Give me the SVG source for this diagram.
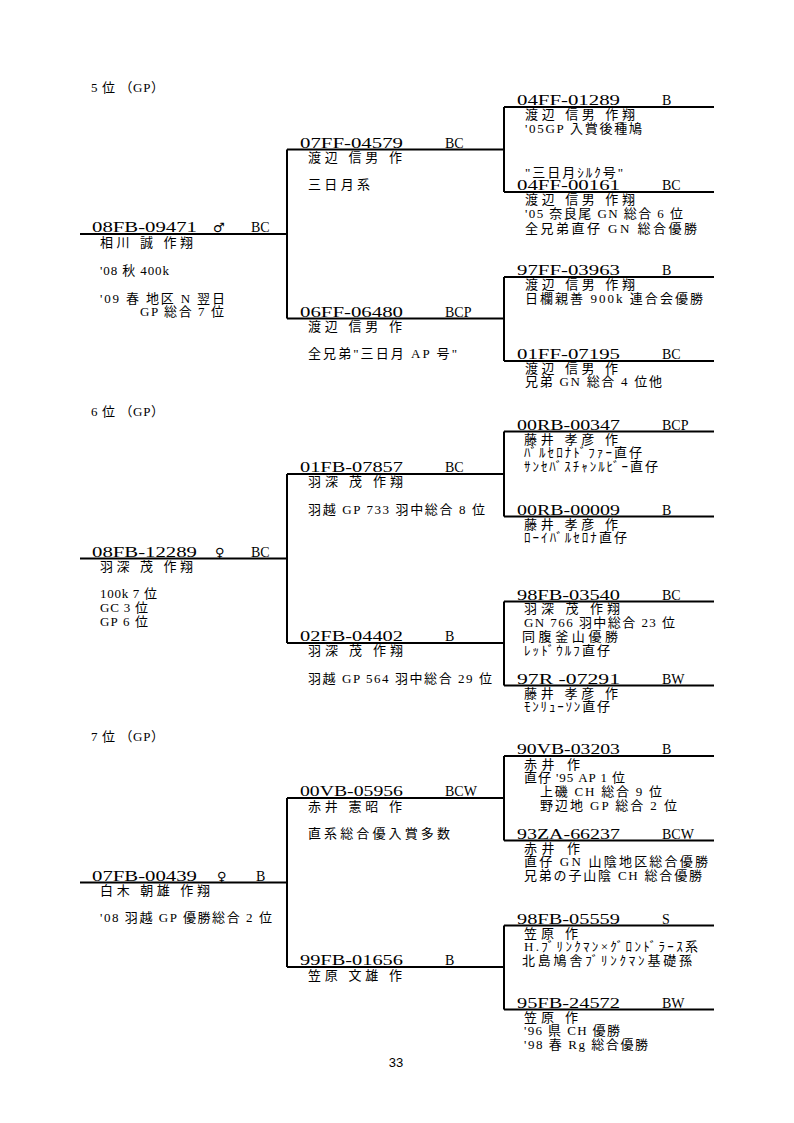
<svg xmlns="http://www.w3.org/2000/svg" width="794" height="1123" viewBox="0 0 794 1123">
<style>
.bg{fill:#ffffff}
.ln{stroke:#000;stroke-width:2;fill:none}
.id{font-family:"Liberation Serif",serif;font-size:14px;fill:#000}
.gr{font-family:"Liberation Serif",serif;font-size:14px;fill:#000}
.sx{font-family:"DejaVu Sans",sans-serif;font-size:13px;font-weight:bold;fill:#000}
.t{font-family:"Liberation Serif","Noto Sans CJK JP",serif;font-size:13px;fill:#000}
.pg{font-family:"Liberation Sans",sans-serif;font-size:13px;fill:#000}
</style>
<rect class="bg" x="0" y="0" width="794" height="1123"/>

<g id="connectors">
<path class="ln" d="M80,234H287M287,149.5V318.5M287,149.5H504M287,318.5H504M504,107V192M504,107H714M504,192H714M504,277V361M504,277H714M504,361H714"/>
<path class="ln" d="M80,558.5H287M287,474V643M287,474H504M287,643H504M504,431.5V516.5M504,431.5H714M504,516.5H714M504,601.5V685.5M504,601.5H714M504,685.5H714"/>
<path class="ln" d="M80,882.5H287M287,798V967M287,798H504M287,967H504M504,756V840.5M504,756H714M504,840.5H714M504,925.5V1009.5M504,925.5H714M504,1009.5H714"/>
</g>

<!-- Section 5 -->
<g id="title5"><text class="t" x="91" y="92" textLength="73">5 位 （GP）</text></g>
<g id="n-08FB-09471">
<text class="id" x="92" y="232" textLength="105" lengthAdjust="spacingAndGlyphs">08FB-09471</text>
<text class="sx" x="213" y="232">♂</text>
<text class="gr" x="251" y="232">BC</text>
<text class="t" x="100" y="246.5" textLength="93">相川 誠 作翔</text>
<text class="t" x="100" y="275" textLength="69">'08 秋 400k</text>
<text class="t" x="100" y="303" textLength="125">'09 春 地区 N 翌日</text>
<text class="t" x="140" y="316" textLength="84">GP 総合 7 位</text>
</g>
<g id="n-07FF-04579">
<text class="id" x="300" y="147.5" textLength="103" lengthAdjust="spacingAndGlyphs">07FF-04579</text>
<text class="gr" x="445" y="147.5">BC</text>
<text class="t" x="308" y="161.5" textLength="94">渡辺 信男 作</text>
<text class="t" x="308" y="189" textLength="62">三日月系</text>
</g>
<g id="n-06FF-06480">
<text class="id" x="300" y="316.5" textLength="103" lengthAdjust="spacingAndGlyphs">06FF-06480</text>
<text class="gr" x="445" y="316.5">BCP</text>
<text class="t" x="308" y="330.5" textLength="94">渡辺 信男 作</text>
<text class="t" x="308" y="358" textLength="149">全兄弟"三日月 AP 号"</text>
</g>
<g id="n-04FF-01289">
<text class="id" x="517" y="105" textLength="103" lengthAdjust="spacingAndGlyphs">04FF-01289</text>
<text class="gr" x="662" y="105">B</text>
<text class="t" x="525" y="118.5" textLength="110">渡辺 信男 作翔</text>
<text class="t" x="525" y="133" textLength="117">'05GP 入賞後種鳩</text>
</g>
<g id="n-04FF-00161">
<text class="t" x="525" y="177" textLength="98">"三日月ｼﾙｸ号"</text>
<text class="id" x="517" y="190" textLength="103" lengthAdjust="spacingAndGlyphs">04FF-00161</text>
<text class="gr" x="662" y="190">BC</text>
<text class="t" x="525" y="203.5" textLength="110">渡辺 信男 作翔</text>
<text class="t" x="525" y="218" textLength="158">'05 奈良尾 GN 総合 6 位</text>
<text class="t" x="525" y="233" textLength="172">全兄弟直仔 GN 総合優勝</text>
</g>
<g id="n-97FF-03963">
<text class="id" x="517" y="275" textLength="103" lengthAdjust="spacingAndGlyphs">97FF-03963</text>
<text class="gr" x="662" y="275">B</text>
<text class="t" x="525" y="289" textLength="110">渡辺 信男 作翔</text>
<text class="t" x="525" y="303" textLength="178">日欄親善 900k 連合会優勝</text>
</g>
<g id="n-01FF-07195">
<text class="id" x="517" y="359" textLength="103" lengthAdjust="spacingAndGlyphs">01FF-07195</text>
<text class="gr" x="662" y="359">BC</text>
<text class="t" x="525" y="372.5" textLength="93">渡辺 信男 作</text>
<text class="t" x="525" y="386" textLength="137">兄弟 GN 総合 4 位他</text>
</g>

<!-- Section 6 -->
<g id="title6"><text class="t" x="91" y="416" textLength="73">6 位 （GP）</text></g>
<g id="n-08FB-12289">
<text class="id" x="92" y="556.5" textLength="105" lengthAdjust="spacingAndGlyphs">08FB-12289</text>
<text class="sx" x="215" y="556.5">♀</text>
<text class="gr" x="251" y="556.5">BC</text>
<text class="t" x="100" y="570.5" textLength="93">羽深 茂 作翔</text>
<text class="t" x="100" y="598" textLength="57">100k 7 位</text>
<text class="t" x="100" y="612" textLength="48">GC 3 位</text>
<text class="t" x="100" y="626" textLength="48">GP 6 位</text>
</g>
<g id="n-01FB-07857">
<text class="id" x="300" y="472" textLength="103" lengthAdjust="spacingAndGlyphs">01FB-07857</text>
<text class="gr" x="445" y="472">BC</text>
<text class="t" x="308" y="486" textLength="95">羽深 茂 作翔</text>
<text class="t" x="308" y="514" textLength="177">羽越 GP 733 羽中総合 8 位</text>
</g>
<g id="n-02FB-04402">
<text class="id" x="300" y="641" textLength="103" lengthAdjust="spacingAndGlyphs">02FB-04402</text>
<text class="gr" x="445" y="641">B</text>
<text class="t" x="308" y="655" textLength="95">羽深 茂 作翔</text>
<text class="t" x="308" y="683" textLength="184">羽越 GP 564 羽中総合 29 位</text>
</g>
<g id="n-00RB-00347">
<text class="id" x="517" y="429.5" textLength="103" lengthAdjust="spacingAndGlyphs">00RB-00347</text>
<text class="gr" x="662" y="429.5">BCP</text>
<text class="t" x="524" y="443.5" textLength="94">藤井 孝彦 作</text>
<text class="t" x="524" y="457" textLength="118">ﾊﾞﾙｾﾛﾅﾄﾞﾌｧｰ直仔</text>
<text class="t" x="524" y="471" textLength="134">ｻﾝｾﾊﾞｽﾁｬﾝﾙﾋﾞｰ直仔</text>
</g>
<g id="n-00RB-00009">
<text class="id" x="517" y="514.5" textLength="103" lengthAdjust="spacingAndGlyphs">00RB-00009</text>
<text class="gr" x="662" y="514.5">B</text>
<text class="t" x="524" y="528.5" textLength="94">藤井 孝彦 作</text>
<text class="t" x="524" y="542" textLength="103">ﾛｰｲﾊﾞﾙｾﾛﾅ直仔</text>
</g>
<g id="n-98FB-03540">
<text class="id" x="517" y="599.5" textLength="103" lengthAdjust="spacingAndGlyphs">98FB-03540</text>
<text class="gr" x="662" y="599.5">BC</text>
<text class="t" x="524" y="613" textLength="96">羽深 茂 作翔</text>
<text class="t" x="524" y="627" textLength="151">GN 766 羽中総合 23 位</text>
<text class="t" x="522" y="641" textLength="96">同腹釜山優勝</text>
<text class="t" x="524" y="655" textLength="86">ﾚｯﾄﾞｳﾙﾌ直仔</text>
</g>
<g id="n-97R-07291">
<text class="id" x="517" y="683.5" textLength="103" lengthAdjust="spacingAndGlyphs">97R -07291</text>
<text class="gr" x="662" y="683.5">BW</text>
<text class="t" x="524" y="697.5" textLength="94">藤井 孝彦 作</text>
<text class="t" x="524" y="711" textLength="86">ﾓﾝﾘｭｰｿﾝ直仔</text>
</g>

<!-- Section 7 -->
<g id="title7"><text class="t" x="91" y="741" textLength="73">7 位 （GP）</text></g>
<g id="n-07FB-00439">
<text class="id" x="92" y="880.5" textLength="105" lengthAdjust="spacingAndGlyphs">07FB-00439</text>
<text class="sx" x="217" y="880.5">♀</text>
<text class="gr" x="256" y="880.5">B</text>
<text class="t" x="100" y="895" textLength="110">白木 朝雄 作翔</text>
<text class="t" x="100" y="922" textLength="172">'08 羽越 GP 優勝総合 2 位</text>
</g>
<g id="n-00VB-05956">
<text class="id" x="300" y="796" textLength="103" lengthAdjust="spacingAndGlyphs">00VB-05956</text>
<text class="gr" x="445" y="796">BCW</text>
<text class="t" x="308" y="810.5" textLength="94">赤井 憲昭 作</text>
<text class="t" x="308" y="838" textLength="142">直系総合優入賞多数</text>
</g>
<g id="n-99FB-01656">
<text class="id" x="300" y="965" textLength="103" lengthAdjust="spacingAndGlyphs">99FB-01656</text>
<text class="gr" x="445" y="965">B</text>
<text class="t" x="308" y="979.5" textLength="94">笠原 文雄 作</text>
</g>
<g id="n-90VB-03203">
<text class="id" x="517" y="754" textLength="103" lengthAdjust="spacingAndGlyphs">90VB-03203</text>
<text class="gr" x="662" y="754">B</text>
<text class="t" x="524" y="768.5" textLength="56">赤井 作</text>
<text class="t" x="524" y="782" textLength="101">直仔 '95 AP 1 位</text>
<text class="t" x="540" y="796" textLength="122">上磯 CH 総合 9 位</text>
<text class="t" x="540" y="809.5" textLength="137">野辺地 GP 総合 2 位</text>
</g>
<g id="n-93ZA-66237">
<text class="id" x="517" y="838.5" textLength="103" lengthAdjust="spacingAndGlyphs">93ZA-66237</text>
<text class="gr" x="662" y="838.5">BCW</text>
<text class="t" x="524" y="852.5" textLength="56">赤井 作</text>
<text class="t" x="524" y="866" textLength="184">直仔 GN 山陰地区総合優勝</text>
<text class="t" x="524" y="880" textLength="178">兄弟の子山陰 CH 総合優勝</text>
</g>
<g id="n-98FB-05559">
<text class="id" x="517" y="923.5" textLength="103" lengthAdjust="spacingAndGlyphs">98FB-05559</text>
<text class="gr" x="662" y="923.5">S</text>
<text class="t" x="524" y="937.5" textLength="54">笠原 作</text>
<text class="t" x="524" y="951" textLength="174">H.ﾌﾞﾘﾝｸﾏﾝ×ｸﾞﾛﾝﾄﾞﾗｰｽ系</text>
<text class="t" x="522" y="965" textLength="170">北島鳩舎ﾌﾞﾘﾝｸﾏﾝ基礎孫</text>
</g>
<g id="n-95FB-24572">
<text class="id" x="517" y="1007.5" textLength="103" lengthAdjust="spacingAndGlyphs">95FB-24572</text>
<text class="gr" x="662" y="1007.5">BW</text>
<text class="t" x="524" y="1021.5" textLength="54">笠原 作</text>
<text class="t" x="524" y="1035" textLength="96">'96 県 CH 優勝</text>
<text class="t" x="524" y="1049" textLength="124">'98 春 Rg 総合優勝</text>
</g>

<g id="page"><text class="pg" x="396" y="1067" text-anchor="middle">33</text></g>
</svg>
